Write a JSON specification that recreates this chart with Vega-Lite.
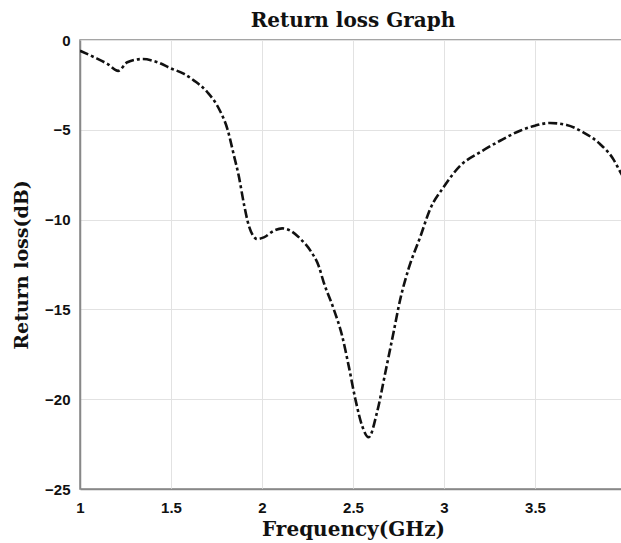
{
  "$schema": "https://vega.github.io/schema/vega-lite/v6.json",
  "width": 546,
  "height": 449,
  "autosize": {"type": "none"},
  "padding": {"left": 80, "top": 40, "right": 0, "bottom": 54},
  "background": "white",
  "title": {
    "text": "Return loss Graph",
    "font": "DejaVu Serif",
    "fontSize": 20,
    "fontWeight": "bold",
    "color": "#111",
    "anchor": "middle",
    "frame": "group",
    "baseline": "alphabetic",
    "offset": 0,
    "dy": 14
  },
  "config": {
    "view": {"stroke": "#888", "strokeWidth": 1.5},
    "axis": {
      "domainColor": "#888",
      "domainWidth": 1.5,
      "gridColor": "#e2e2e2",
      "gridWidth": 1,
      "ticks": false,
      "labelFont": "Liberation Sans",
      "labelFontSize": 15,
      "labelFontWeight": "bold",
      "labelColor": "#111",
      "titleFont": "DejaVu Serif",
      "titleFontSize": 19,
      "titleFontWeight": "bold",
      "titleColor": "#111"
    }
  },
  "data": {
    "values": [
      {"f": 1.0, "rl": -0.6},
      {"f": 1.078, "rl": -0.96},
      {"f": 1.152, "rl": -1.34},
      {"f": 1.21, "rl": -1.72},
      {"f": 1.26, "rl": -1.24},
      {"f": 1.344, "rl": -1.06},
      {"f": 1.426, "rl": -1.24},
      {"f": 1.499, "rl": -1.58},
      {"f": 1.572, "rl": -1.89},
      {"f": 1.627, "rl": -2.26},
      {"f": 1.7, "rl": -2.91},
      {"f": 1.764, "rl": -3.84},
      {"f": 1.81, "rl": -4.96},
      {"f": 1.846, "rl": -6.44},
      {"f": 1.873, "rl": -7.6},
      {"f": 1.9, "rl": -9.1},
      {"f": 1.928, "rl": -10.35},
      {"f": 1.974, "rl": -11.08},
      {"f": 2.01, "rl": -10.99},
      {"f": 2.065, "rl": -10.62},
      {"f": 2.111, "rl": -10.49},
      {"f": 2.157, "rl": -10.62},
      {"f": 2.212, "rl": -11.08},
      {"f": 2.266, "rl": -11.73},
      {"f": 2.312, "rl": -12.6},
      {"f": 2.339, "rl": -13.49},
      {"f": 2.394, "rl": -14.98},
      {"f": 2.44, "rl": -16.46},
      {"f": 2.476, "rl": -18.13},
      {"f": 2.513, "rl": -20.0},
      {"f": 2.55, "rl": -21.48},
      {"f": 2.586, "rl": -22.12},
      {"f": 2.632, "rl": -20.73},
      {"f": 2.678, "rl": -18.5},
      {"f": 2.723, "rl": -16.27},
      {"f": 2.76, "rl": -14.42},
      {"f": 2.805, "rl": -12.75},
      {"f": 2.87, "rl": -10.95},
      {"f": 2.924, "rl": -9.41},
      {"f": 2.997, "rl": -8.2},
      {"f": 3.089, "rl": -7.0},
      {"f": 3.198, "rl": -6.25},
      {"f": 3.308, "rl": -5.61},
      {"f": 3.418, "rl": -5.05},
      {"f": 3.5, "rl": -4.77},
      {"f": 3.582, "rl": -4.62},
      {"f": 3.674, "rl": -4.73},
      {"f": 3.765, "rl": -5.14},
      {"f": 3.857, "rl": -5.79},
      {"f": 3.93, "rl": -6.63},
      {"f": 3.97, "rl": -7.37},
      {"f": 4.0, "rl": -7.9}
    ]
  },
  "mark": {
    "type": "line",
    "color": "#111",
    "strokeWidth": 2.6,
    "strokeDash": [9, 3, 3, 3],
    "interpolate": "monotone",
    "clip": true
  },
  "encoding": {
    "x": {
      "field": "f",
      "type": "quantitative",
      "scale": {"domain": [1, 4], "nice": false, "zero": false},
      "axis": {
        "title": "Frequency(GHz)",
        "titleFontSize": 20,
        "values": [1, 1.5, 2, 2.5, 3, 3.5, 4],
        "format": "~g",
        "labelPadding": 11,
        "titlePadding": 4,
        "labelFlush": false
      }
    },
    "y": {
      "field": "rl",
      "type": "quantitative",
      "scale": {"domain": [-25, 0], "nice": false, "zero": false},
      "axis": {
        "title": "Return loss(dB)",
        "values": [-25, -20, -15, -10, -5, 0],
        "format": "~g",
        "labelPadding": 10,
        "titlePadding": 13,
        "labelFlush": false
      }
    }
  }
}
